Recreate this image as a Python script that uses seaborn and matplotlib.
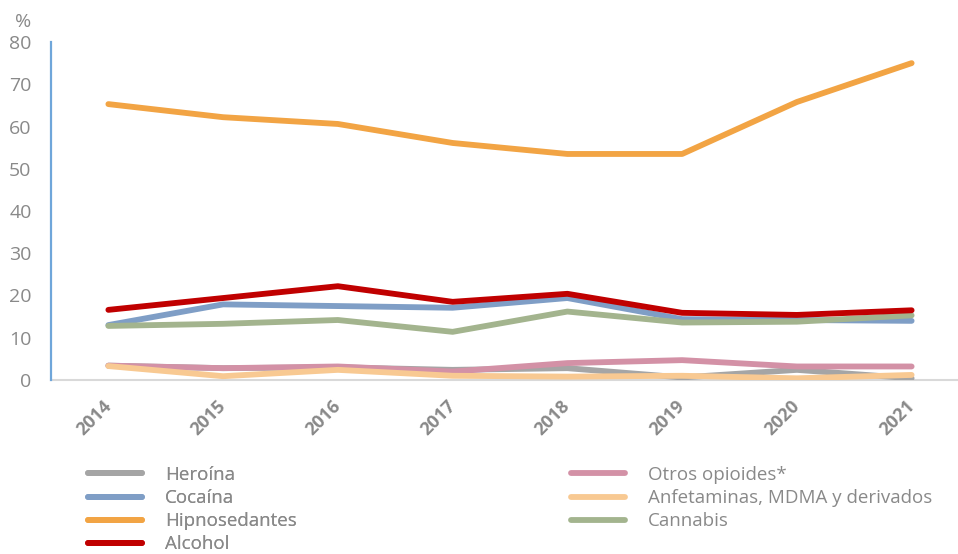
import matplotlib
matplotlib.use("Agg")
import matplotlib.pyplot as plt
import seaborn as sns
import pandas as pd
from matplotlib.lines import Line2D

years = [2014, 2015, 2016, 2017, 2018, 2019, 2020, 2021]

heroina = [3.4, 2.8, 3.0, 2.4, 2.8, 0.6, 2.4, 0.4]
cocaina = [13.0, 17.9, 17.5, 17.1, 19.4, 14.4, 14.2, 14.0]
hipnosedantes = [65.3, 62.2, 60.6, 56.1, 53.5, 53.5, 65.8, 75.0]
alcohol = [16.6, 19.4, 22.2, 18.5, 20.4, 15.9, 15.4, 16.5]
otros_opioides = [3.4, 2.8, 3.2, 2.0, 4.0, 4.7, 3.2, 3.2]
anfetaminas = [3.3, 0.9, 2.4, 1.0, 0.8, 1.0, 0.4, 1.2]
cannabis = [12.8, 13.3, 14.2, 11.4, 16.2, 13.6, 13.8, 15.3]

series_names = ["Heroína", "Cocaína", "Hipnosedantes", "Alcohol",
                "Otros opioides*", "Anfetaminas, MDMA y derivados", "Cannabis"]
series_values = [heroina, cocaina, hipnosedantes, alcohol,
                 otros_opioides, anfetaminas, cannabis]
series_colors = ["#A5A5A5", "#7F9EC6", "#F2A444", "#C00000",
                 "#D391A6", "#F8C992", "#A3B48E"]
draw_order = [0, 1, 2, 4, 5, 6, 3]

y_ticks = [0, 10, 20, 30, 40, 50, 60, 70, 80]

sns.set_theme(style="white")
plt.rcParams["font.family"] = ["Open Sans", "DejaVu Sans"]

df = pd.DataFrame({
    "year": years * len(series_names),
    "valor": [v for vals in series_values for v in vals],
    "serie": [n for n in series_names for _ in years],
})

fig = plt.figure(figsize=(9.58, 5.54), dpi=100)
ax = fig.add_axes([51 / 958, 1 - 380 / 554, 918 / 958, 338 / 554])

for i in draw_order:
    sub = df[df["serie"] == series_names[i]]
    sns.lineplot(data=sub, x="year", y="valor", ax=ax, color=series_colors[i],
                 linewidth=4.2, solid_capstyle="round", solid_joinstyle="round",
                 legend=False, zorder=3 + draw_order.index(i))

ax.set_xlim(2013.5, 2021.5)
ax.set_ylim(0, 80)
ax.set_xticks(years)
ax.set_yticks(y_ticks)
ax.set_xlabel("")
ax.set_ylabel("")

gray = "#898989"
ax.tick_params(axis="y", length=0, pad=14, labelsize=14, labelcolor=gray)
ax.tick_params(axis="x", length=0, pad=17, labelsize=13, labelcolor=gray)
for lbl in ax.get_xticklabels():
    lbl.set_rotation(45)
    lbl.set_ha("right")
    lbl.set_va("center")
    lbl.set_rotation_mode("anchor")
    lbl.set_fontweight("bold")

for s in ["top", "right"]:
    ax.spines[s].set_visible(False)
ax.spines["left"].set_color("#6FA6DA")
ax.spines["left"].set_linewidth(1.6)
ax.spines["bottom"].set_color("#D9D9D9")
ax.spines["bottom"].set_linewidth(1.5)
ax.spines["bottom"].set_zorder(2)

fig.text(31 / 958, 1 - 22 / 554, "%", ha="right", va="center",
         fontsize=14, color=gray)

def make_legend(idx, x0):
    handles = [Line2D([], [], color=series_colors[i], linewidth=4.2,
                      solid_capstyle="round") for i in idx]
    labels = [series_names[i] for i in idx]
    leg = fig.legend(handles, labels, loc="upper left",
                     bbox_to_anchor=(x0, 1 - 466 / 554), frameon=False,
                     fontsize=13.5, handlelength=2.9, handletextpad=1.2,
                     labelspacing=0.27, borderpad=0, borderaxespad=0,
                     labelcolor=gray)
    return leg

leg1 = make_legend([0, 1, 2, 3], 88 / 958)
leg2 = make_legend([4, 5, 6], 571 / 958)
fig.add_artist(leg1)

fig.savefig("out.png", dpi=100, facecolor="white")
